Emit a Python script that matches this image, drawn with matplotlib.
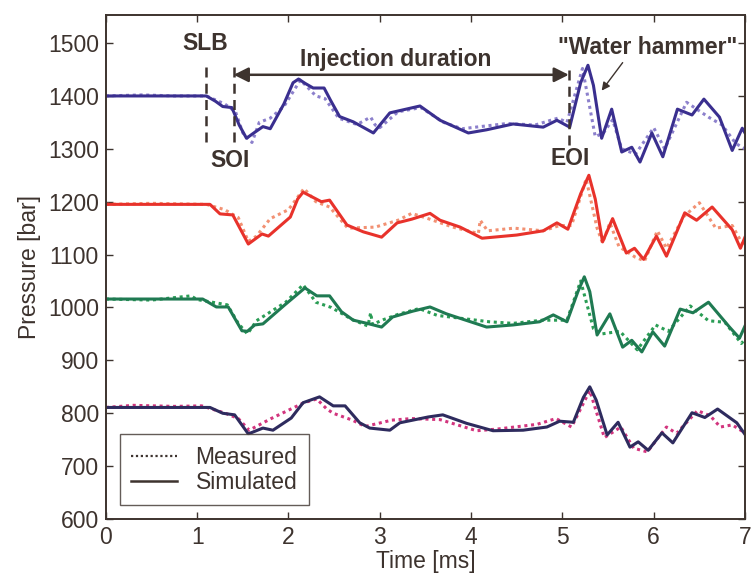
import numpy as np
import matplotlib.pyplot as plt

plt.rcParams['font.family'] = ['Liberation Sans', 'DejaVu Sans']

# time [ms] / pressure [bar], one trace pair per rail pressure
sim_t1 = [0, 1.1, 1.2, 1.28, 1.38, 1.46, 1.54, 1.62, 1.72, 1.8, 1.95, 2.05, 2.11, 2.18, 2.27, 2.39, 2.46,
          2.56, 2.71, 2.93, 3.11, 3.44, 3.66, 3.97, 4.17, 4.46, 4.79, 4.94, 5.08, 5.2, 5.28, 5.34, 5.43,
          5.54, 5.65, 5.76, 5.85, 5.98, 6.1, 6.26, 6.42, 6.55, 6.72, 6.86, 6.97, 7.0]
sim_p1 = [1400, 1400, 1390, 1380, 1378, 1345, 1320, 1330, 1342, 1338, 1385, 1425, 1432, 1424, 1415, 1415, 1392,
          1361, 1351, 1330, 1368, 1381, 1354, 1330, 1336, 1347, 1341, 1354, 1341, 1425, 1458, 1420, 1320,
          1375, 1294, 1303, 1275, 1330, 1285, 1375, 1364, 1394, 1360, 1297, 1339, 1330]
meas_t1 = [0, 0.4, 0.75, 1.1, 1.3, 1.42, 1.5, 1.6, 1.68, 1.8, 1.95, 2.13, 2.2, 2.3, 2.4, 2.55, 2.75, 2.9,
           2.95, 3.0, 3.2, 3.45, 3.7, 3.9, 4.1, 4.4, 4.7, 4.95, 5.05, 5.22, 5.36, 5.45, 5.55, 5.65, 5.8,
           6.0, 6.12, 6.36, 6.6, 6.75, 6.9, 7.0]
meas_p1 = [1400, 1402, 1400, 1400, 1385, 1370, 1330, 1312, 1350, 1358, 1380, 1430, 1418, 1400, 1395, 1358,
           1346, 1360, 1345, 1340, 1370, 1378, 1350, 1338, 1342, 1348, 1345, 1358, 1350, 1452, 1323, 1330,
           1355, 1300, 1290, 1340, 1300, 1388, 1360, 1345, 1310, 1300]

sim_t2 = [0, 1.14, 1.25, 1.39, 1.56, 1.71, 1.78, 2.02, 2.1, 2.16, 2.36, 2.45, 2.64, 2.82, 3.02, 3.19, 3.35, 3.55,
          3.66, 3.88, 4.12, 4.5, 4.79, 4.94, 5.06, 5.2, 5.29, 5.36, 5.44, 5.55, 5.7, 5.79, 5.89, 6.03, 6.14,
          6.34, 6.47, 6.64, 6.86, 6.95, 7.0]
sim_p2 = [1195, 1195, 1177, 1175, 1120, 1139, 1135, 1171, 1205, 1218, 1200, 1203, 1156, 1143, 1133, 1160, 1167,
          1178, 1165, 1152, 1131, 1137, 1145, 1160, 1148, 1215, 1250, 1205, 1124, 1168, 1103, 1112, 1091, 1135,
          1097, 1179, 1165, 1190, 1147, 1112, 1133]
meas_t2 = [0, 0.5, 1.1, 1.3, 1.45, 1.56, 1.65, 1.8, 2.0, 2.17, 2.3, 2.45, 2.65, 2.95, 3.2, 3.35, 3.53, 3.8,
           4.08, 4.1, 4.18, 4.47, 4.79, 4.97, 5.1, 5.26, 5.38, 5.44, 5.52, 5.62, 5.8, 5.9, 6.04, 6.14, 6.33,
           6.5, 6.68, 6.86, 6.99]
meas_p2 = [1195, 1197, 1195, 1185, 1170, 1125, 1135, 1168, 1185, 1225, 1200, 1190, 1150, 1152, 1165, 1178,
           1168, 1152, 1140, 1165, 1145, 1150, 1145, 1155, 1155, 1243, 1150, 1122, 1160, 1115, 1095, 1088,
           1145, 1112, 1172, 1198, 1150, 1155, 1115]

sim_t3 = [0, 1.06, 1.21, 1.34, 1.49, 1.55, 1.63, 1.72, 1.96, 2.18, 2.31, 2.45, 2.58, 2.71, 2.86, 3.02, 3.14,
          3.36, 3.55, 3.73, 4.17, 4.46, 4.75, 4.9, 5.05, 5.17, 5.24, 5.3, 5.38, 5.52, 5.66, 5.76, 5.87, 5.99,
          6.12, 6.29, 6.43, 6.6, 6.83, 6.94, 7.0]
sim_p3 = [1016, 1016, 1001, 1001, 956, 955, 967, 969, 1005, 1037, 1022, 1022, 992, 976, 970, 963, 982, 993,
          1001, 988, 963, 967, 973, 986, 973, 1030, 1058, 1030, 948, 988, 925, 938, 916, 954, 927, 997, 990,
          1010, 963, 942, 965]
meas_t3 = [0, 0.5, 0.93, 1.0, 1.33, 1.45, 1.55, 1.65, 1.97, 2.16, 2.3, 2.47, 2.7, 2.87, 2.9, 2.92, 3.04,
           3.2, 3.43, 3.63, 4.2, 4.46, 4.78, 5.05, 5.2, 5.34, 5.43, 5.63, 5.82, 6.02, 6.16, 6.4, 6.6, 6.78,
           6.96, 7.0]
meas_p3 = [1016, 1014, 1022, 1015, 1005, 970, 950, 975, 1010, 1043, 1010, 1000, 977, 965, 990, 968, 977,
           987, 998, 985, 973, 970, 976, 976, 1050, 960, 950, 955, 920, 967, 955, 1003, 975, 972, 932, 940]

sim_t4 = [0, 1.14, 1.28, 1.41, 1.56, 1.72, 1.83, 2.03, 2.16, 2.34, 2.49, 2.62, 2.78, 2.89, 3.11, 3.22, 3.53,
          3.69, 3.95, 4.24, 4.57, 4.83, 4.97, 5.12, 5.23, 5.3, 5.37, 5.49, 5.61, 5.74, 5.83, 5.94, 6.09, 6.21,
          6.42, 6.56, 6.7, 6.91, 7.0]
sim_p4 = [811, 811, 800, 797, 761, 772, 768, 791, 820, 831, 814, 814, 782, 772, 768, 782, 793, 797, 781,
          767, 768, 774, 785, 783, 830, 850, 825, 759, 783, 736, 746, 730, 763, 744, 801, 792, 808, 782, 760]
meas_t4 = [0, 0.3, 0.75, 1.05, 1.31, 1.45, 1.57, 1.81, 2.17, 2.31, 2.42, 2.49, 2.7, 2.84, 3.13, 3.35, 3.66,
           4.06, 4.28, 4.72, 4.93, 5.1, 5.3, 5.46, 5.64, 5.78, 5.93, 6.14, 6.25, 6.48, 6.62, 6.73, 6.86, 6.98]
meas_p4 = [811, 815, 813, 814, 800, 790, 768, 790, 820, 827, 808, 800, 787, 775, 787, 790, 788, 767, 770,
           779, 790, 774, 843, 754, 774, 734, 727, 774, 762, 805, 795, 774, 778, 765]

sim_colors = ['#3a2f8f', '#e8322b', '#1f7a52', '#2e2b5e']
meas_colors = ['#8c80cc', '#f29173', '#2a9d55', '#d2357e']

ink = '#3d332e'
fs = 16.5

fig = plt.figure(figsize=(7.51, 5.78), dpi=100)
ax = fig.add_axes([0.141, 0.102, 0.851, 0.872])

traces = [(meas_t1, meas_p1, sim_t1, sim_p1), (meas_t2, meas_p2, sim_t2, sim_p2),
          (meas_t3, meas_p3, sim_t3, sim_p3), (meas_t4, meas_p4, sim_t4, sim_p4)]
for i, (mt, mp, st, sp) in enumerate(traces):
    ax.plot(mt, mp, ls=(0, (1, 1.2)), lw=2.2, color=meas_colors[i])
    ax.plot(st, sp, ls='-', lw=2.2, color=sim_colors[i], solid_joinstyle='round')

# legend drawn with neutral proxies
h1, = ax.plot([], [], ls=(0, (1, 1.2)), lw=1.6, color=ink)
h2, = ax.plot([], [], ls='-', lw=1.8, color=ink)
leg = ax.legend([h1, h2], ['Measured', 'Simulated'], loc='lower left', bbox_to_anchor=(0.022, 0.027),
                fontsize=fs, frameon=True, fancybox=False, handlelength=2.0, borderpad=0.5,
                labelspacing=0.1, handletextpad=0.8, borderaxespad=0)
leg.get_frame().set_edgecolor(ink)
leg.get_frame().set_linewidth(1.0)
for t in leg.get_texts():
    t.set_color(ink)

# event markers
ax.plot([1.1, 1.1], [1313, 1462], ls=(0, (4, 2.5)), lw=1.8, color=ink)
ax.plot([1.4, 1.4], [1313, 1462], ls=(0, (4, 2.5)), lw=1.8, color=ink)
ax.plot([5.07, 5.07], [1307, 1455], ls=(0, (4, 2.5)), lw=1.8, color=ink)
ax.annotate('', xy=(1.4, 1440), xytext=(5.07, 1440),
            arrowprops=dict(arrowstyle='<|-|>', color=ink, lw=1.8, mutation_scale=22, shrinkA=0, shrinkB=0))
ax.text(1.09, 1500, 'SLB', ha='center', va='center', fontsize=fs, fontweight='bold', color=ink)
ax.text(1.36, 1277, 'SOI', ha='center', va='center', fontsize=fs, fontweight='bold', color=ink)
ax.text(5.08, 1282, 'EOI', ha='center', va='center', fontsize=fs, fontweight='bold', color=ink)
ax.text(3.17, 1468, 'Injection duration', ha='center', va='center', fontsize=fs, fontweight='bold', color=ink)
ax.text(5.93, 1492, '"Water hammer"', ha='center', va='center', fontsize=fs, fontweight='bold', color=ink)
ax.annotate('', xy=(5.43, 1410), xytext=(5.66, 1463),
            arrowprops=dict(arrowstyle='-|>', color=ink, lw=1.0, mutation_scale=12, shrinkA=0, shrinkB=0))

ax.set_xlim(0, 7)
ax.set_ylim(600, 1553)
ax.set_xticks(np.arange(0, 8, 1))
ax.set_yticks(np.arange(600, 1501, 100))
ax.tick_params(direction='in', top=True, right=True, length=5, width=1, colors=ink, labelsize=fs, pad=5)
for s in ax.spines.values():
    s.set_color(ink)
    s.set_linewidth(1.4)
ax.set_xlabel('Time [ms]', fontsize=fs, color=ink, labelpad=1)
ax.set_ylabel('Pressure [bar]', fontsize=fs, color=ink, labelpad=5)

fig.savefig('out.png', dpi=100)
